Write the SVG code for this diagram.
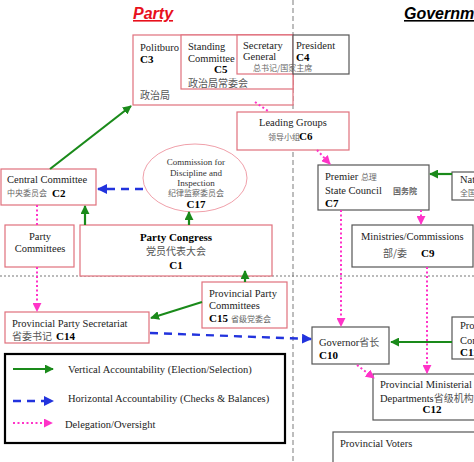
<svg xmlns="http://www.w3.org/2000/svg" width="474" height="462" viewBox="0 0 474 462">
<style>
.box{fill:#fff;stroke:#e0707c;stroke-width:1.2}
.dbox{fill:#fff;stroke:#555;stroke-width:1.2}
.t{font-family:"Liberation Serif",serif;font-size:10.5px;fill:#222}
.s{font-family:"Liberation Serif",serif;font-size:9px;fill:#333}
.b{font-family:"Liberation Serif",serif;font-size:11px;font-weight:bold;fill:#000}
.cn{font-family:"Noto Sans CJK SC",sans-serif;font-size:8px;fill:#666}
.cn10{font-family:"Noto Sans CJK SC",sans-serif;font-size:10px;fill:#555}
.g{fill:none;stroke:#1a8a1a;stroke-width:2.2}
.bl{fill:none;stroke:#2233dd;stroke-width:2.4;stroke-dasharray:8,6}
.p{fill:none;stroke:#ff33c8;stroke-width:2;stroke-dasharray:2,2.5}
</style>
<defs>
<marker id="ag" viewBox="0 0 10 10" refX="9" refY="5" markerWidth="9" markerHeight="9" markerUnits="userSpaceOnUse" orient="auto"><path d="M0,0 L10,5 L0,10 z" fill="#1a8a1a"/></marker>
<marker id="ab" viewBox="0 0 10 10" refX="9" refY="5" markerWidth="10" markerHeight="10" markerUnits="userSpaceOnUse" orient="auto"><path d="M0,0 L10,5 L0,10 z" fill="#2233dd"/></marker>
<marker id="ap" viewBox="0 0 10 10" refX="9" refY="5" markerWidth="9" markerHeight="9" markerUnits="userSpaceOnUse" orient="auto"><path d="M0,0 L10,5 L0,10 z" fill="#ff33c8"/></marker>
</defs>
<rect width="474" height="462" fill="#fff"/>
<g id="dividers">
<line x1="293" y1="0" x2="293" y2="462" stroke="#888" stroke-width="1.1" stroke-dasharray="5,3"/>
<line x1="0" y1="276" x2="474" y2="276" stroke="#777" stroke-width="1.2" stroke-dasharray="2,2"/>
</g>
<g id="titles">
<text x="133" y="19" font-family="Liberation Sans,Arial,sans-serif" font-size="16" font-weight="bold" font-style="italic" fill="#e8101c" text-decoration="underline">Party</text>
<text x="404" y="19" font-family="Liberation Sans,Arial,sans-serif" font-size="16" font-weight="bold" font-style="italic" fill="#000" text-decoration="underline">Government</text>
</g>
<g id="c3">
<rect class="box" x="133" y="35" width="160" height="70"/>
<text class="t" x="140" y="51">Politburo</text>
<text class="b" x="140" y="63">C3</text>
<text class="cn10" x="140" y="99">政治局</text>
</g>
<g id="c5">
<rect class="box" x="181" y="35" width="112" height="54"/>
<text class="t" x="188" y="50">Standing</text>
<text class="t" x="188" y="62">Committee</text>
<text class="b" x="214" y="73">C5</text>
<text class="cn10" x="188" y="87">政治局常委会</text>
</g>
<g id="secgen">
<rect class="box" x="237" y="35" width="56" height="39"/>
<text class="t" x="243" y="48.5">Secretary</text>
<text class="t" x="243" y="60">General</text>
</g>
<g id="c4">
<rect class="dbox" x="293" y="35" width="56" height="39"/>
<text class="t" x="296" y="48.5">President</text>
<text class="b" x="296" y="60.5">C4</text>
</g>
<text class="cn" x="253" y="70.5">总书记/国家主席</text>
<g id="c6">
<rect class="box" x="237" y="112" width="112" height="38"/>
<text class="t" x="293" y="126" text-anchor="middle">Leading Groups</text>
<text class="cn" x="268" y="140">领导小组</text>
<text class="b" x="299" y="140">C6</text>
</g>
<g id="c2">
<rect class="box" x="1" y="169" width="95" height="36"/>
<text class="t" x="7" y="183">Central Committee</text>
<text class="cn" x="7" y="196">中央委员会</text>
<text class="b" x="52" y="197">C2</text>
</g>
<g id="c17">
<ellipse cx="195" cy="178" rx="52" ry="34" fill="#fff" stroke="#f0a0aa" stroke-width="1"/>
<text class="s" x="196" y="165" text-anchor="middle">Commission for</text>
<text class="s" x="196" y="175.5" text-anchor="middle">Discipline and</text>
<text class="s" x="196" y="186" text-anchor="middle">Inspection</text>
<text class="cn" x="196" y="196" text-anchor="middle" font-size="9">纪律监察委员会</text>
<text class="b" x="196" y="208" text-anchor="middle">C17</text>
</g>
<g id="partycommittees">
<rect class="box" x="5" y="225" width="69" height="42"/>
<text class="t" x="40" y="240" text-anchor="middle">Party</text>
<text class="t" x="40" y="252" text-anchor="middle">Committees</text>
</g>
<g id="c1">
<rect class="box" x="80" y="225" width="192" height="51"/>
<text class="b" x="176" y="241" text-anchor="middle" font-size="12.5">Party Congress</text>
<text class="cn10" x="176" y="255" text-anchor="middle" font-size="12">党员代表大会</text>
<text class="b" x="176" y="269" text-anchor="middle">C1</text>
</g>
<g id="c15">
<rect class="box" x="202" y="282" width="85" height="46"/>
<text class="t" x="209" y="297">Provincial Party</text>
<text class="t" x="209" y="309">Committees</text>
<text class="b" x="209" y="322" font-size="12">C15</text>
<text class="cn" x="231" y="322" font-size="9">省级党委会</text>
</g>
<g id="c14">
<rect class="box" x="5" y="312" width="144" height="31"/>
<text class="t" x="12" y="327">Provincial Party Secretariat</text>
<text class="cn10" x="12" y="340">省委书记</text>
<text class="b" x="56" y="340">C14</text>
</g>
<g id="c7">
<rect class="dbox" x="318" y="165" width="111" height="45"/>
<text class="t" x="325" y="180">Premier <tspan class="cn" font-size="9">总理</tspan></text>
<text class="t" x="325" y="194">State Council</text>
<text class="cn" x="393" y="194" font-weight="bold" fill="#222">国务院</text>
<text class="b" x="325" y="207">C7</text>
</g>
<g id="npc">
<rect class="dbox" x="452" y="172" width="40" height="28"/>
<text class="t" x="460" y="183">National People's Congress</text>
<text class="cn" x="460" y="196">全国人民代表大会</text>
</g>
<g id="c9">
<rect class="dbox" x="352" y="225" width="121" height="42"/>
<text class="t" x="361" y="240">Ministries/Commissions</text>
<text class="cn10" x="383" y="257">部/委</text>
<text class="b" x="421" y="257">C9</text>
</g>
<g id="c10">
<rect class="dbox" x="312" y="327" width="77" height="37"/>
<text class="t" x="319" y="346">Governor<tspan class="cn10">省长</tspan></text>
<text class="b" x="319" y="359">C10</text>
</g>
<g id="c11">
<rect class="dbox" x="452" y="317" width="40" height="42"/>
<text class="t" x="460" y="329">Provincial People's</text>
<text class="t" x="460" y="344">Congresses</text>
<text class="b" x="460" y="356">C11</text>
</g>
<g id="c12">
<rect class="dbox" x="373" y="374" width="110" height="46"/>
<text class="t" x="380" y="388">Provincial Ministerial</text>
<text class="t" x="380" y="402">Departments<tspan class="cn10">省级机构</tspan></text>
<text class="b" x="432" y="413" text-anchor="middle">C12</text>
</g>
<g id="voters">
<rect class="dbox" x="333" y="432" width="150" height="40"/>
<text class="t" x="340" y="447">Provincial Voters</text>
</g>
<g id="connectors">
<line class="g" x1="50" y1="169" x2="131" y2="106" marker-end="url(#ag)"/>
<line class="bl" x1="143" y1="189" x2="98" y2="189" marker-end="url(#ab)"/>
<line class="g" x1="85" y1="225" x2="85" y2="206" marker-end="url(#ag)"/>
<line class="g" x1="189" y1="225" x2="189" y2="212" marker-end="url(#ag)"/>
<line class="p" x1="37" y1="205" x2="37" y2="225"/>
<line class="p" x1="37" y1="267" x2="37" y2="311" marker-end="url(#ap)"/>
<line class="p" x1="255" y1="102" x2="268" y2="111"/>
<line class="p" x1="317" y1="150" x2="330" y2="164" marker-end="url(#ap)"/>
<line class="g" x1="245" y1="282" x2="245" y2="271" marker-end="url(#ag)"/>
<line class="g" x1="202" y1="302" x2="151" y2="318" marker-end="url(#ag)"/>
<line class="bl" x1="150" y1="333" x2="311" y2="339" marker-end="url(#ab)"/>
<line class="g" x1="452" y1="174" x2="430" y2="174" marker-end="url(#ag)"/>
<line class="p" x1="421" y1="210" x2="421" y2="224" marker-end="url(#ap)"/>
<line class="p" x1="341" y1="210" x2="341" y2="326" marker-end="url(#ap)"/>
<line class="p" x1="427" y1="267" x2="427" y2="373" marker-end="url(#ap)"/>
<line class="g" x1="452" y1="342" x2="391" y2="342" marker-end="url(#ag)"/>
<line class="p" x1="357" y1="365" x2="374" y2="378" marker-end="url(#ap)"/>
</g>
<g id="legend">
<rect x="5" y="354" width="280" height="89" fill="#fff" stroke="#000" stroke-width="2.2"/>
<line class="g" x1="13" y1="369" x2="53" y2="369" marker-end="url(#ag)"/>
<text class="t" x="68" y="373">Vertical Accountability (Election/Selection)</text>
<line class="bl" x1="13" y1="401" x2="53" y2="401" marker-end="url(#ab)"/>
<text class="t" x="68" y="402">Horizontal Accountability (Checks &amp; Balances)</text>
<line class="p" x1="13" y1="423" x2="52" y2="423" marker-end="url(#ap)"/>
<text class="t" x="65" y="428">Delegation/Oversight</text>
</g>
</svg>
